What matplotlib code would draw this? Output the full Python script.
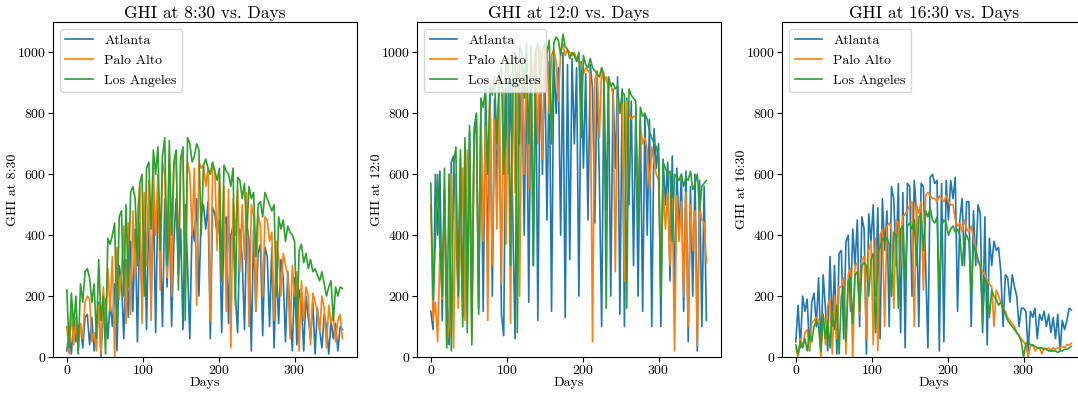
import matplotlib
matplotlib.use("Agg")
import matplotlib.pyplot as plt

# LaTeX-like look without a TeX install
plt.rcParams['font.family'] = 'serif'
plt.rcParams['font.serif'] = ['cmr10']
plt.rcParams['mathtext.fontset'] = 'cm'
plt.rcParams['axes.formatter.use_mathtext'] = True

# one reading every third day of the year
days = list(range(0, 365, 3))
times = ["8:30", "12:0", "16:30"]
cities = ["Atlanta", "Palo Alto", "Los Angeles"]

# GHI at 8:30
atl_830 = [20, 90, 10, 120, 50, 100, 110, 30, 130, 140,
           40, 130, 20, 90, 180, 0, 150, 190, 60, 180,
           100, 240, 20, 300, 250, 60, 320, 130, 380, 150,
           420, 50, 440, 200, 460, 90, 500, 160, 530, 80,
           540, 400, 100, 520, 230, 480, 100, 380, 520, 270,
           420, 90, 500, 300, 60, 440, 380, 520, 200, 470,
           500, 420, 510, 60, 490, 470, 400, 450, 80, 430,
           460, 110, 400, 430, 200, 80, 420, 320, 90, 440,
           380, 20, 420, 150, 340, 370, 70, 360, 330, 100,
           360, 30, 300, 110, 320, 260, 50, 280, 150, 20,
           260, 40, 220, 180, 20, 200, 130, 60, 180, 10,
           160, 90, 30, 140, 100, 10, 120, 60, 110, 20,
           100, 90]
pa_830 = [100, 10, 150, 40, 130, 20, 110, 60, 180, 200,
          190, 50, 80, 20, 170, 10, 230, 120, 290, 150,
          330, 0, 360, 190, 280, 430, 110, 440, 140, 480,
          260, 470, 560, 110, 540, 300, 580, 120, 620, 400,
          600, 220, 640, 600, 260, 650, 200, 630, 650, 330,
          660, 650, 240, 640, 600, 400, 620, 170, 640, 620,
          630, 560, 620, 120, 630, 610, 350, 600, 250, 560,
          150, 550, 30, 520, 400, 550, 280, 500, 320, 540,
          100, 500, 460, 150, 470, 430, 200, 460, 450, 380,
          410, 120, 380, 330, 200, 340, 300, 270, 60, 300,
          200, 280, 20, 250, 120, 230, 200, 40, 210, 180,
          150, 80, 200, 160, 30, 170, 110, 140, 50, 120,
          140, 60]
la_830 = [220, 30, 210, 100, 200, 10, 240, 180, 280, 290,
          260, 180, 240, 60, 320, 120, 200, 10, 390, 370,
          400, 440, 100, 460, 480, 200, 500, 230, 540, 560,
          520, 300, 570, 600, 200, 620, 640, 420, 680, 600,
          690, 350, 660, 720, 300, 710, 400, 640, 680, 220,
          650, 690, 120, 720, 700, 640, 660, 700, 680, 400,
          630, 650, 620, 600, 640, 610, 580, 620, 250, 630,
          610, 600, 560, 620, 170, 590, 580, 520, 570, 400,
          560, 520, 540, 330, 500, 510, 460, 540, 520, 500,
          480, 500, 200, 460, 420, 450, 380, 430, 410, 400,
          380, 100, 350, 370, 310, 340, 290, 320, 280, 290,
          270, 250, 280, 240, 200, 230, 250, 120, 230, 200,
          230, 225]

# GHI at 12:00
atl_1200 = [150, 90, 600, 400, 610, 120, 550, 200, 40, 640,
            660, 420, 200, 650, 130, 700, 250, 740, 100, 750,
            800, 160, 820, 150, 860, 280, 880, 200, 850, 560,
            870, 140, 70, 880, 600, 900, 450, 60, 920, 700,
            950, 400, 960, 180, 980, 300, 1000, 120, 990, 600,
            1000, 450, 970, 150, 980, 800, 950, 400, 1000, 130,
            960, 320, 980, 700, 950, 200, 970, 620, 930, 450,
            960, 880, 440, 930, 580, 100, 920, 480, 900, 200,
            880, 620, 920, 140, 880, 100, 850, 500, 840, 300,
            820, 200, 780, 150, 800, 400, 780, 100, 750, 620,
            700, 100, 650, 500, 640, 250, 660, 200, 620, 400,
            600, 150, 610, 50, 560, 200, 600, 20, 580, 100,
            560, 120]
pa_1200 = [500, 120, 180, 50, 350, 190, 520, 40, 100, 600,
           30, 600, 160, 350, 620, 120, 680, 600, 60, 730,
           760, 200, 800, 380, 760, 120, 830, 300, 780, 420,
           860, 240, 880, 370, 900, 110, 930, 540, 960, 200,
           980, 600, 1000, 550, 990, 900, 1010, 700, 1020, 650,
           1020, 1000, 800, 990, 1010, 970, 840, 1000, 1030, 990,
           1010, 1000, 990, 1000, 980, 970, 960, 930, 950, 940,
           930, 50, 910, 940, 720, 950, 900, 920, 880, 900,
           860, 280, 850, 820, 830, 250, 840, 800, 780, 790,
           790, 450, 760, 700, 720, 680, 550, 690, 640, 600,
           580, 250, 560, 420, 540, 300, 520, 20, 530, 380,
           510, 200, 540, 100, 500, 350, 480, 40, 500, 450,
           440, 310]
la_1200 = [570, 190, 380, 600, 360, 200, 620, 30, 600, 20,
           630, 690, 200, 680, 100, 720, 80, 760, 40, 720,
           800, 140, 850, 820, 880, 600, 900, 860, 920, 700,
           920, 950, 600, 960, 980, 300, 980, 1000, 80, 1020,
           1000, 850, 1030, 700, 1020, 300, 1000, 1030, 900, 1010,
           1030, 1000, 1040, 700, 1030, 1050, 1040, 990, 1060, 1020,
           1010, 980, 1000, 990, 970, 1000, 720, 990, 960, 950,
           980, 950, 940, 930, 920, 950, 930, 160, 920, 890,
           900, 880, 890, 800, 870, 860, 160, 880, 860, 850,
           840, 420, 820, 790, 800, 780, 740, 720, 700, 690,
           650, 200, 640, 620, 600, 610, 380, 600, 590, 580,
           600, 560, 590, 580, 610, 550, 570, 600, 480, 560,
           570, 580]

# GHI at 16:30
atl_1630 = [50, 170, 30, 200, 150, 190, 20, 180, 210, 100,
            260, 20, 270, 160, 20, 330, 100, 300, 10, 340,
            350, 60, 380, 400, 150, 420, 300, 450, 100, 460,
            420, 10, 470, 380, 500, 200, 490, 60, 520, 350,
            480, 100, 560, 520, 300, 570, 80, 540, 30, 570,
            560, 200, 580, 470, 100, 570, 560, 300, 30, 590,
            600, 570, 580, 20, 570, 50, 580, 450, 580, 520,
            590, 150, 450, 520, 300, 510, 510, 100, 480, 300,
            500, 470, 80, 460, 40, 390, 300, 380, 350, 360,
            280, 100, 270, 260, 180, 270, 230, 200, 100, 160,
            160, 150, 20, 150, 130, 160, 60, 140, 120, 150,
            100, 140, 80, 130, 60, 140, 20, 120, 90, 120,
            160, 155]
pa_1630 = [30, 0, 60, 30, 80, 90, 20, 110, 120, 130,
           120, 0, 140, 40, 170, 190, 10, 200, 60, 230,
           230, 260, 10, 270, 290, 0, 300, 310, 140, 320,
           330, 60, 350, 380, 40, 390, 20, 400, 420, 100,
           430, 440, 420, 160, 450, 440, 300, 460, 470, 480,
           500, 510, 100, 500, 470, 510, 220, 530, 540, 530,
           520, 520, 510, 530, 520, 510, 530, 510, 500, 500,
           450, 430, 440, 410, 450, 420, 410, 430, 390, 360,
           310, 300, 280, 270, 250, 240, 230, 100, 220, 200,
           180, 160, 150, 130, 120, 110, 100, 80, 70, 60,
           50, 40, 0, 35, 40, 20, 30, 30, 10, 30,
           25, 30, 20, 30, 25, 30, 30, 35, 30, 40,
           40, 45]
la_1630 = [40, 10, 50, 30, 60, 20, 80, 50, 100, 120,
           100, 20, 140, 60, 120, 30, 150, 90, 170, 10,
           200, 230, 50, 250, 260, 110, 270, 280, 150, 300,
           310, 300, 200, 320, 340, 80, 340, 360, 390, 380,
           390, 370, 200, 410, 400, 160, 420, 430, 250, 430,
           440, 420, 450, 300, 460, 470, 350, 480, 460, 490,
           450, 440, 460, 200, 430, 450, 440, 400, 420, 430,
           410, 420, 400, 300, 390, 400, 380, 200, 370, 350,
           320, 300, 110, 260, 240, 130, 220, 200, 190, 170,
           180, 160, 140, 120, 110, 100, 90, 80, 70, 50,
           0, 45, 50, 40, 40, 35, 30, 30, 30, 25,
           25, 20, 20, 20, 20, 15, 20, 20, 25, 25,
           30, 35]

ghi = {
    "8:30": [atl_830, pa_830, la_830],
    "12:0": [atl_1200, pa_1200, la_1200],
    "16:30": [atl_1630, pa_1630, la_1630],
}

fig = plt.figure(figsize=(10.78, 3.94), dpi=100)
lefts = [53, 417, 782]

for left, t in zip(lefts, times):
    ax = fig.add_axes([left / 1078, 37 / 394, 304 / 1078, 335 / 394])
    for city, vals in zip(cities, ghi[t]):
        ax.plot(days, vals, lw=1.2, label=city)
    ax.set_xlim(-18.2, 382.2)
    ax.set_ylim(0, 1100)
    ax.set_xticks([0, 100, 200, 300])
    ax.set_yticks([0, 200, 400, 600, 800, 1000])
    ax.tick_params(labelsize=10, pad=1.5)
    ax.set_title("GHI at %s vs. Days" % t, fontsize=12.5, pad=3)
    ax.set_xlabel("Days", fontsize=10)
    ax.set_ylabel("GHI at %s" % t, fontsize=10)
    ax.xaxis.set_label_coords(0.5, -0.06)
    ax.yaxis.set_label_coords(-0.112, 0.5)
    ax.legend(loc="upper left", fontsize=10)

fig.savefig("out.png", dpi=100)
